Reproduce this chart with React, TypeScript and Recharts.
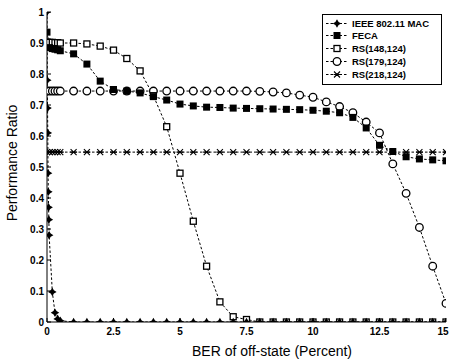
import React from 'react';
import { LineChart, Line, XAxis, YAxis, Legend } from 'recharts';

// x positions (BER %) used by the curves
const clusterX = [0, 0.1, 0.2, 0.3, 0.4, 0.5];
const stepX = [1, 1.5, 2, 2.5, 3, 3.5, 4, 4.5, 5, 5.5, 6, 6.5, 7, 7.5, 8, 8.5, 9, 9.5, 10, 10.5, 11, 11.5, 12, 12.5, 13, 13.5, 14, 14.5, 15];

// IEEE 802.11 MAC drops to ~0 almost immediately
const ieeeNearX = [0, 0.01, 0.02, 0.03, 0.04, 0.05, 0.06, 0.07, 0.08, 0.2, 0.3, 0.4, 0.5];
const ieeeNearY = [1, 0.78, 0.69, 0.61, 0.48, 0.42, 0.37, 0.33, 0.28, 0.097, 0.03, 0.01, 0.004];
const ieeeStepY = [0, 0, 0, 0, 0, 0, 0, 0, 0, 0, 0, 0, 0, 0, 0, 0, 0, 0, 0, 0, 0, 0, 0, 0, 0, 0, 0, 0, 0];

const fecaClusterY = [0.935, 0.885, 0.882, 0.88, 0.878, 0.875];
const fecaStepY = [0.865, 0.832, 0.777, 0.75, 0.745, 0.739, 0.727, 0.716, 0.703, 0.697, 0.693, 0.692, 0.69, 0.689, 0.688, 0.687, 0.686, 0.685, 0.683, 0.68, 0.675, 0.66, 0.626, 0.57, 0.55, 0.533, 0.526, 0.523, 0.52];

const rs148ClusterY = [0.903, 0.902, 0.902, 0.901, 0.901, 0.9];
const rs148StepY = [0.9, 0.897, 0.89, 0.877, 0.85, 0.81, 0.73, 0.63, 0.48, 0.325, 0.18, 0.065, 0.017, 0.008, 0, 0, 0, 0, 0, 0, 0, 0, 0, 0, 0, 0, 0, 0, 0];

const rs179ClusterY = [0.745, 0.745, 0.745, 0.745, 0.745, 0.745];
const rs179StepY = [0.745, 0.745, 0.745, 0.745, 0.745, 0.745, 0.745, 0.745, 0.745, 0.745, 0.745, 0.745, 0.745, 0.745, 0.744, 0.742, 0.739, 0.732, 0.725, 0.71, 0.695, 0.675, 0.645, 0.61, 0.51, 0.415, 0.305, 0.18, 0.06];

const rs218ClusterY = [0.548, 0.548, 0.548, 0.548, 0.548, 0.548];
const rs218StepY = [0.548, 0.548, 0.548, 0.548, 0.548, 0.548, 0.548, 0.548, 0.548, 0.548, 0.548, 0.548, 0.548, 0.548, 0.548, 0.548, 0.548, 0.548, 0.548, 0.548, 0.548, 0.548, 0.548, 0.548, 0.548, 0.548, 0.548, 0.548, 0.548];

const xTicks = [0, 2.5, 5, 7.5, 10, 12.5, 15];
const yTicks = [0, 0.1, 0.2, 0.3, 0.4, 0.5, 0.6, 0.7, 0.8, 0.9, 1];

const toPoints = (xs: number[], ys: number[]) => xs.map((x, i) => ({ x, y: ys[i] }));

const ieeeData = toPoints([...ieeeNearX, ...stepX], [...ieeeNearY, ...ieeeStepY]);
const fecaData = toPoints([...clusterX, ...stepX], [...fecaClusterY, ...fecaStepY]);
const rs148Data = toPoints([...clusterX, ...stepX], [...rs148ClusterY, ...rs148StepY]);
const rs179Data = toPoints([...clusterX, ...stepX], [...rs179ClusterY, ...rs179StepY]);
const rs218Data = toPoints([...clusterX, ...stepX], [...rs218ClusterY, ...rs218StepY]);

const FONT = '"Liberation Sans", Arial, sans-serif';
const DASH = '2.5 2';

const StarDot = (p: any) => {
  const { cx, cy, index } = p;
  if (cx == null || cy == null) return <g key={index} />;
  const s = 4.3, w = 1.6;
  return (
    <path
      key={index}
      d={`M${cx},${cy - s}L${cx + w},${cy - w}L${cx + s},${cy}L${cx + w},${cy + w}L${cx},${cy + s}L${cx - w},${cy + w}L${cx - s},${cy}L${cx - w},${cy - w}Z`}
      fill="#000"
    />
  );
};

const FilledSquare = (p: any) => {
  const { cx, cy, index } = p;
  if (cx == null || cy == null) return <g key={index} />;
  return <rect key={index} x={cx - 3.5} y={cy - 3.5} width={7} height={7} fill="#000" />;
};

const OpenSquare = (p: any) => {
  const { cx, cy, index } = p;
  if (cx == null || cy == null) return <g key={index} />;
  return <rect key={index} x={cx - 3} y={cy - 3} width={6} height={6} fill="#fff" stroke="#000" strokeWidth={1.3} />;
};

const OpenCircle = (p: any) => {
  const { cx, cy, index } = p;
  if (cx == null || cy == null) return <g key={index} />;
  return <circle key={index} cx={cx} cy={cy} r={3.8} fill="#fff" stroke="#000" strokeWidth={1.3} />;
};

const AsteriskDot = (p: any) => {
  const { cx, cy, index } = p;
  if (cx == null || cy == null) return <g key={index} />;
  const s = 3;
  return (
    <path
      key={index}
      d={`M${cx - s},${cy - s}L${cx + s},${cy + s}M${cx - s},${cy + s}L${cx + s},${cy - s}M${cx - s - 0.5},${cy}L${cx + s + 0.5},${cy}`}
      stroke="#000"
      strokeWidth={1.1}
      fill="none"
    />
  );
};

const legendRows = [
  { name: 'IEEE 802.11 MAC', Dot: StarDot },
  { name: 'FECA', Dot: FilledSquare },
  { name: 'RS(148,124)', Dot: OpenSquare },
  { name: 'RS(179,124)', Dot: OpenCircle },
  { name: 'RS(218,124)', Dot: AsteriskDot },
];

const LegendBox = () => (
  <div
    style={{
      position: 'relative',
      width: 120,
      height: 71,
      border: '1px solid #000',
      background: '#fff',
      boxSizing: 'border-box',
    }}
  >
    {legendRows.map((r, i) => (
      <div key={r.name} style={{ position: 'absolute', left: 0, top: 1.5 + i * 12.75, height: 13, width: '100%' }}>
        <svg width={26} height={13} style={{ position: 'absolute', left: 0, top: 0 }}>
          <line x1={3} y1={6.5} x2={24} y2={6.5} stroke="#000" strokeDasharray={DASH} />
          {r.Dot({ cx: 14, cy: 6.5, index: 0 })}
        </svg>
        <span
          style={{
            position: 'absolute',
            left: 29,
            top: 0,
            lineHeight: '13px',
            fontFamily: FONT,
            fontWeight: 'bold',
            fontSize: 9.5,
            whiteSpace: 'nowrap',
            color: '#000',
          }}
        >
          {r.name}
        </span>
      </div>
    ))}
  </div>
);

const tickStyle = { fontFamily: FONT, fontWeight: 'bold' as const, fontSize: 10, fill: '#000' };

// bottom tick labels; the last one is pulled inside the right edge like the original
const XTick = (p: any) => {
  const { x, y, payload } = p;
  const last = payload.value === 15;
  return (
    <text
      x={last ? 448.5 : x}
      y={y}
      dy={7.5}
      textAnchor={last ? 'end' : 'middle'}
      {...tickStyle}
    >
      {payload.value}
    </text>
  );
};

const App: React.FC = () => {
  return (
    <div style={{ position: 'absolute', left: 0, top: 0, background: '#fff' }}>
      <LineChart width={449} height={361} margin={{ top: 12, right: 3, left: 0, bottom: 0 }}>
        <XAxis
          dataKey="x"
          type="number"
          domain={[0, 15]}
          ticks={xTicks}
          interval={0}
          allowDataOverflow
          height={39}
          stroke="#000"
          tickSize={-4}
          tickMargin={9}
          tick={XTick}
          label={() => (
            <text x={272} y={356} textAnchor="middle" fontFamily={FONT} fontSize={14} fill="#000">
              BER of off-state (Percent)
            </text>
          )}
        />
        <XAxis
          xAxisId="top"
          orientation="top"
          type="number"
          domain={[0, 15]}
          ticks={xTicks}
          interval={0}
          height={0}
          stroke="#000"
          tickSize={-4}
          tickFormatter={() => ''}
        />
        <YAxis
          type="number"
          domain={[0, 1]}
          ticks={yTicks}
          interval={0}
          allowDataOverflow
          width={47}
          stroke="#000"
          tickSize={-4}
          tickMargin={7}
          tick={tickStyle}
          tickFormatter={(v: number) => (v === 0 ? '0' : v === 1 ? '1' : v.toFixed(1))}
          label={() => (
            <text
              x={12}
              y={163}
              transform="rotate(-90 12 163)"
              textAnchor="middle"
              dominantBaseline="central"
              fontFamily={FONT}
              fontSize={14}
              fill="#000"
            >
              Performance Ratio
            </text>
          )}
        />
        <YAxis
          yAxisId="right"
          orientation="right"
          type="number"
          domain={[0, 1]}
          ticks={yTicks}
          interval={0}
          width={0}
          stroke="#000"
          tickSize={-4}
          tickFormatter={() => ''}
        />
        <Legend
          layout="vertical"
          align="center"
          verticalAlign="middle"
          content={() => <LegendBox />}
          wrapperStyle={{ left: 322, top: 14, width: 120, height: 71 }}
        />
        <Line data={rs218Data} dataKey="y" name="RS(218,124)" stroke="#000" strokeWidth={1} strokeDasharray={DASH} dot={AsteriskDot} isAnimationActive={false} />
        <Line data={rs179Data} dataKey="y" name="RS(179,124)" stroke="#000" strokeWidth={1} strokeDasharray={DASH} dot={OpenCircle} isAnimationActive={false} />
        <Line data={rs148Data} dataKey="y" name="RS(148,124)" stroke="#000" strokeWidth={1} strokeDasharray={DASH} dot={OpenSquare} isAnimationActive={false} />
        <Line data={fecaData} dataKey="y" name="FECA" stroke="#000" strokeWidth={1} strokeDasharray={DASH} dot={FilledSquare} isAnimationActive={false} />
        <Line data={ieeeData} dataKey="y" name="IEEE 802.11 MAC" stroke="#000" strokeWidth={1} strokeDasharray={DASH} dot={StarDot} isAnimationActive={false} />
      </LineChart>
    </div>
  );
};

export default App;
